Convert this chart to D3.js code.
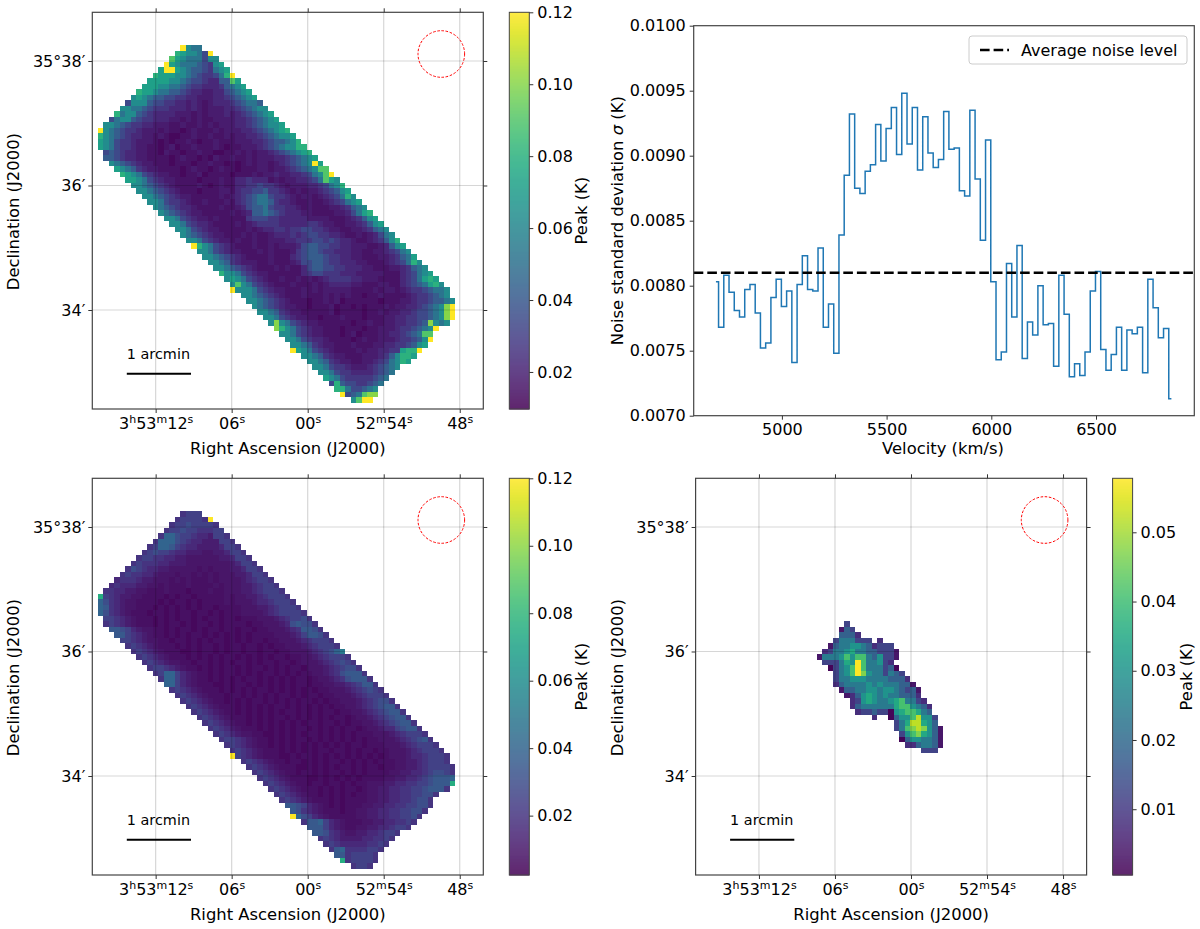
<!DOCTYPE html>
<html>
<head>
<meta charset="utf-8">
<script src="https://cdn.jsdelivr.net/npm/d3@7"></script>
<style>
  body { margin: 0; background: #fff; }
  text { font-family: "DejaVu Sans", sans-serif; fill: #000; }
</style>
</head>
<body>
<svg id="chart" width="1200" height="929"></svg>
<script>
// peak map cells: one character per cell, first row of the grid is 6
const firstRow = 6;
const rowStarts = [16,15,14,13,12,11,10,9,8,7,6,5,4,3,2,1,1,1,1,2,2,3,4,5,6,7,8,9,10,11,12,13,14,15,16,17,18,19,20,21,22,23,24,25,25,27,28,29,30,31,32,33,34,35,36,36,38,39,40,41,42,43,44,45,47];

const levelKeys = "0123456789abcy";
const rawPeakLevels = [0.012,0.015,0.018,0.022,0.027,0.034,0.042,0.052,0.063,0.072,0.08,0.09,0.1,0.12];
const rawPeakRows = [
  "y877",
  "a98875y",
  "b98777588",
  "y9877765489",
  "9yy9876654789",
  "a999887654457ay",
  "999988765543366b9",
  "9998877654433346789",
  "a99877665433223356789",
  "89876655443322233456789",
  "5888655443323212333456776",
  "887765444333232122233456788",
  "a7886543333222121222323456789",
  "5788654433322121211222233456789",
  "887654433222112112121222334567889",
  "y876544322212110121112122233456789a",
  "a87654332212100112112112122334567889",
  "987544322210101121011211122233456678a",
  "987544322110120112111210112223456788aa",
  "5654332211021101121100112121223456789a",
  "665433221111012110102112112122233456789",
  "8765432211101110112110101212212345678y9",
  "9876432211110121101211011122122345678bb",
  "a987543221101120111101112122322334578by",
  "998754322111101112113343331212233457b98",
  "88765432111121012113344544321222334578a",
  "887654321110111221344556443212122345689",
  "8876543221111121234567754432122123457a8",
  "887544321121112134567764332112112345789",
  "876543321111211235667544332121112234678",
  "87654322111112123667654333221111223579a",
  "887543221211111455544333332222111234689",
  "887543321111212344443333344322112234689",
  "887543221111121233443445544322112234678",
  "876543221112121123334345544332112123578",
  "88754322121121122233444554543321123468a",
  "ya8754321112112122235665544332221123689",
  "887543221112121112456654433322112234578",
  "887654321111211134566654433221112234679",
  "8876432221121112355665443332211123457a8",
  "887654321112121135665544333221112234678",
  "a88754322111111345544433322222111345789",
  "8987543211211212123444433222111134579a9",
  "8b87543211121112123333221112211345679a8",
  "y888754322111212122222111121221234456778",
  "88765432111211121212110112111123445678",
  "88765432111011212011111101112234456678",
  "87654322110111201101011121223345678cy",
  "8876432211111201111011212233455678cy",
  "887543221101112111011122334455678cy",
  "8c875432211111101121122334456c878",
  "ca875432211101110112223445678y",
  "88754322111012011122334567bb",
  "88754332111101211222344568y",
  "8876432211121112233445689",
  "y98754321111212233449aay",
  "887643221112223468aa9",
  "88764322112234578a9",
  "8875443222345678",
  "88754433334567",
  "987544444567",
  "5a65544567",
  "aa755678",
  "y567bcc",
  "8byy"
];

const cleanedPeakLevels = [0.005,0.007,0.009,0.012,0.016,0.02,0.025,0.03,0.035,0.04,0.05,0.075,0.1,0.12];
const cleanedPeakRows = [
  "5666",
  "566665y",
  "566766665",
  "56676655566",
  "5997665443665",
  "599976544333665",
  "56998654433334665",
  "5676654433322334665",
  "566554433222222334665",
  "56555443332222222234665",
  "5765443322222121222334665",
  "565544322212212121222334665",
  "45554332221212111212222345665",
  "4544433221211121111212223345665",
  "554433221112111011121122233456665",
  "b6543322111101011011111212233456665",
  "975432211110101101011112122234456665",
  "9854322111010101010110111122233456665",
  "97543211101101011011010111222234566665",
  "66543211101010110101101101112223456675",
  "565432111010110101101011110112223478775",
  "887643221101011010110110110112223458875",
  "886543211010101101010101011112223468875",
  "665432211011010101101010110112223456665",
  "565432111010101101011011010112223456665",
  "56543211100101101011011011011222345679a",
  "565432111010101011010101011011223456665",
  "565432211011010101101011011012223456765",
  "566543211010101101011010101102223456775",
  "569964321101011010101101010112234578885",
  "599643211010101011010101011012234578885",
  "996432111001011010101010110112233456885",
  "565432111010101011010101010112223456765",
  "565432111011010101011010110112223456665",
  "565432110101011010101011010112223456775",
  "565432111010101011010101010112234567885",
  "565432110101010101101010110112234567885",
  "565432111010101101010101011012234567885",
  "565432110101010101011011010112234567885",
  "565432111010101011010101011012234467885",
  "565432211001010101101010101112223456665",
  "566543211010101101010101010112223456785",
  "565432110101010101010101101112223456665",
  "565432111010101011011010110112223456665",
  "y654321110010110101010101010122234456665",
  "56543211011010101101010101112233456665",
  "56543211100101010110101101122334566665",
  "5654321101101011010101111223344567765",
  "565432111001010101011112233445678889",
  "5654321101101101011222334455667888b",
  "565432111010101101223344556678885",
  "565432110101010112233445566775",
  "5654321110101111223344556775",
  "887643210101112233445566775",
  "8754321110112233445566775",
  "y97643211111223344556675",
  "588964321112233445565",
  "8886432112233445665",
  "8875432233445665",
  "56543333445565",
  "565444445565",
  "5895555665",
  "88566665",
  "b566665",
  "5665"
];

// source-only map around the galaxy
const sourceLevels = [0.001,0.004,0.008,0.012,0.018,0.024,0.03,0.035,0.041,0.047,0.052,0.056,0.057,0.058];
const sourceFirstRow = 26;
const sourceStarts = [27,26,26,25,24,23,22,23,24,25,25,25,26,27,28,28,29,32,36,36,37,37,38,41];
const sourceRows = [
  "3",
  "143",
  "4442",
  "3555333.2",
  "145566542333",
  "23556755443331",
  "155568688546331",
  "333576y855632",
  "03568y8555340",
  "3568y96553543",
  "35566655554442",
  "245555656555441",
  "144556656654341",
  "12467656554442",
  "23676556785532",
  "245555557886542",
  "23343306788754",
  "2..04668a663",
  "357aa764",
  "3589a9641",
  "36897641",
  "04665541",
  "2245541",
  "333"
];

// noise spectrum
const velocities = [4685,4710,4735,4760,4785,4810,4835,4860,4885,4910,4935,4960,4985,5010,5035,5060,5085,5110,5135,5160,5185,5210,5235,5260,5285,5310,5335,5360,5385,5410,5435,5460,5485,5510,5535,5560,5585,5610,5635,5660,5685,5710,5735,5760,5785,5810,5835,5860,5885,5910,5935,5960,5985,6010,6035,6060,6085,6110,6135,6160,6185,6210,6235,6260,6285,6310,6335,6360,6385,6410,6435,6460,6485,6510,6535,6560,6585,6610,6635,6660,6685,6710,6735,6760,6785,6810,6835,6860];
const noiseSigma = [0.00803,0.00768,0.00808,0.00795,0.00781,0.00776,0.00797,0.00801,0.00779,0.00752,0.00756,0.00791,0.00805,0.00784,0.00796,0.00741,0.00801,0.00823,0.00797,0.00796,0.00829,0.00768,0.00786,0.00748,0.00839,0.00885,0.00932,0.00875,0.00871,0.00888,0.00893,0.00924,0.00896,0.00921,0.00937,0.00901,0.00948,0.00909,0.00937,0.00889,0.0093,0.00902,0.00891,0.00897,0.00934,0.00905,0.00906,0.00873,0.00869,0.00935,0.00882,0.00835,0.00912,0.00803,0.00743,0.00749,0.00817,0.00776,0.00831,0.00744,0.00772,0.00762,0.008,0.0077,0.00771,0.00738,0.00808,0.00778,0.0073,0.0074,0.00731,0.00749,0.00796,0.00811,0.00751,0.00735,0.00747,0.00768,0.00735,0.00766,0.00763,0.00768,0.00733,0.00805,0.00783,0.0076,0.00767,0.00713];
const averageNoise = 0.0081;

const velocityTicks = [5000,5500,6000,6500];
const sigmaTicks = [0.007,0.0075,0.008,0.0085,0.009,0.0095,0.01];

const raOffsets = [12,6,0,-6,-12];
const raTickLabels = ["3h53m12s","06s","00s","52m54s","48s"];
const decMinutes = [38,36,34];
const decTickLabels = ["35°38′","36′","34′"];
const peakTicksRaw = [0.02,0.04,0.06,0.08,0.1,0.12];
const peakTicksSource = [0.01,0.02,0.03,0.04,0.05];

const svg = d3.select("#chart");
const tickFont = 16;
const labelFont = 16.4;

function styleAxis(g) {
  g.selectAll(".domain").remove();
  g.selectAll("line").attr("stroke", "#333").attr("stroke-width", 1);
  g.selectAll("text").style("font-size", tickFont + "px");
}

function addSuperscripts(g) {
  g.selectAll("text").each(function (d, i) {
    const label = raTickLabels[i];
    const el = d3.select(this).text(null);
    const parts = label.match(/\d+|[a-z]/g);
    let raised = false;
    parts.forEach(p => {
      const isLetter = /[a-z]/.test(p);
      const span = el.append("tspan").text(p);
      if (isLetter) {
        span.attr("dy", -6).style("font-size", "11px");
        raised = true;
      } else {
        if (raised) span.attr("dy", 6);
        raised = false;
      }
    });
  });
}

function drawSkyPanel(opt) {
  const w = 391, h = opt.height;
  const g = svg.append("g").attr("transform", `translate(${opt.left},${opt.top})`);

  const colScale = d3.scaleLinear().domain([0, 71.1]).range([0, w]);
  const rowScale = d3.scaleLinear().domain([0, 72.1]).range([0, h]);
  const raScale = d3.scaleLinear().domain([17, -13.86]).range([0, w]);
  const decScale = d3.scaleLinear().domain([38.782, 32.41]).range([0, h]);
  const color = d3.scaleSequential(d3.interpolateViridis).domain([opt.vmin, opt.vmax]);

  const cells = [];
  opt.rows.forEach((row, i) => {
    row.split("").forEach((key, j) => {
      if (key === ".") return;
      cells.push({ row: opt.firstRow + i, col: opt.starts[i] + j, value: opt.levels[levelKeys.indexOf(key)] });
    });
  });

  g.selectAll("rect.cell").data(cells).join("rect")
    .attr("class", "cell")
    .attr("x", d => colScale(d.col))
    .attr("y", d => rowScale(d.row))
    .attr("width", colScale(1) - colScale(0))
    .attr("height", rowScale(1) - rowScale(0))
    .attr("shape-rendering", "crispEdges")
    .attr("fill", d => color(d.value));

  // grid sits over the image
  g.selectAll("line.ra").data(raOffsets).join("line")
    .attr("x1", d => raScale(d)).attr("x2", d => raScale(d))
    .attr("y1", 0).attr("y2", h)
    .attr("stroke", "rgba(0,0,0,0.16)").attr("stroke-width", 1.2);
  g.selectAll("line.dec").data(decMinutes).join("line")
    .attr("x1", 0).attr("x2", w)
    .attr("y1", d => decScale(d)).attr("y2", d => decScale(d))
    .attr("stroke", "rgba(0,0,0,0.16)").attr("stroke-width", 1.2);

  g.append("rect").attr("width", w).attr("height", h)
    .attr("fill", "none").attr("stroke", "#444").attr("stroke-width", 1.2);

  const bottom = g.append("g").attr("transform", `translate(0,${h})`)
    .call(d3.axisBottom(raScale).tickValues(raOffsets).tickSizeOuter(0).tickSize(4).tickPadding(5)
      .tickFormat((d, i) => raTickLabels[i]));
  styleAxis(bottom);
  addSuperscripts(bottom);
  styleAxis(g.append("g").call(d3.axisTop(raScale).tickValues(raOffsets).tickSize(4).tickFormat("")));

  const left = g.append("g")
    .call(d3.axisLeft(decScale).tickValues(decMinutes).tickSize(4).tickPadding(3)
      .tickFormat((d, i) => decTickLabels[i]));
  styleAxis(left);
  styleAxis(g.append("g").attr("transform", `translate(${w},0)`)
    .call(d3.axisRight(decScale).tickValues(decMinutes).tickSize(4).tickFormat("")));

  g.append("text").attr("x", w / 2).attr("y", h + 45).attr("text-anchor", "middle")
    .style("font-size", labelFont + "px").text("Right Ascension (J2000)");
  g.append("text").attr("transform", `translate(-73,${h / 2 + 1}) rotate(-90)`).attr("text-anchor", "middle")
    .style("font-size", labelFont + "px").text("Declination (J2000)");

  // scale bar and beam
  g.append("line").attr("x1", 34.5).attr("x2", 98.7).attr("y1", 361.5).attr("y2", 361.5)
    .attr("stroke", "#000").attr("stroke-width", 2);
  g.append("text").attr("x", 34.5).attr("y", 346.5).style("font-size", "14.4px").text("1 arcmin");
  g.append("circle").attr("cx", 349).attr("cy", 41.7).attr("r", 23.3)
    .attr("fill", "none").attr("stroke", "red").attr("stroke-width", 1).attr("stroke-dasharray", "2.6,1.6");

  // colour bar
  const barH = d3.scaleLinear().domain([opt.vmin, opt.vmax]).range([h, 0]);
  const bar = svg.append("g").attr("transform", `translate(${opt.left + opt.barGap},${opt.top})`);
  bar.selectAll("rect").data(d3.range(0, h)).join("rect")
    .attr("x", 0).attr("y", d => d).attr("width", 20).attr("height", 1.2)
    .attr("fill", d => color(barH.invert(d + 0.5)));
  bar.append("rect").attr("width", 20).attr("height", h)
    .attr("fill", "none").attr("stroke", "#444").attr("stroke-width", 1);
  const barAxis = bar.append("g").attr("transform", "translate(20,0)")
    .call(d3.axisRight(barH).tickValues(opt.barTicks).tickSize(4).tickPadding(4).tickFormat(d3.format(".2f")));
  styleAxis(barAxis);
  bar.append("text").attr("transform", `translate(${opt.barLabelX},${h / 2}) rotate(-90)`).attr("text-anchor", "middle")
    .style("font-size", labelFont + "px").text("Peak (K)");
}

drawSkyPanel({ left: 92.3, top: 12.3, height: 396.7, rows: rawPeakRows, starts: rowStarts, firstRow, levels: rawPeakLevels,
  vmin: 0.0097, vmax: 0.12, barTicks: peakTicksRaw, barGap: 417, barLabelX: 78 });
drawSkyPanel({ left: 92.3, top: 478.3, height: 396.7, rows: cleanedPeakRows, starts: rowStarts, firstRow, levels: cleanedPeakLevels,
  vmin: 0.0024, vmax: 0.12, barTicks: peakTicksRaw, barGap: 417, barLabelX: 78 });
drawSkyPanel({ left: 695.6, top: 478.3, height: 396.7, rows: sourceRows, starts: sourceStarts, firstRow: sourceFirstRow, levels: sourceLevels,
  vmin: 0.0005, vmax: 0.0578, barTicks: peakTicksSource, barGap: 417, barLabelX: 79 });

// noise panel
const spec = { left: 693.7, right: 1194.3, top: 25.7, bottom: 415.7 };
const vScale = d3.scaleLinear().domain([4578.8, 6969.4]).range([spec.left, spec.right]);
const sScale = d3.scaleLinear().domain([0.007, 0.01]).range([spec.bottom, spec.top]);
const specG = svg.append("g");

specG.append("path")
  .attr("d", d3.line().x(d => vScale(d[0])).y(d => sScale(d[1])).curve(d3.curveStep)(d3.zip(velocities, noiseSigma)))
  .attr("fill", "none").attr("stroke", "#1f77b4").attr("stroke-width", 1.5);
specG.append("line").attr("x1", spec.left).attr("x2", spec.right)
  .attr("y1", sScale(averageNoise)).attr("y2", sScale(averageNoise))
  .attr("stroke", "#000").attr("stroke-width", 2.6).attr("stroke-dasharray", "9.6,4");
specG.append("rect").attr("x", spec.left).attr("y", spec.top)
  .attr("width", spec.right - spec.left).attr("height", spec.bottom - spec.top)
  .attr("fill", "none").attr("stroke", "#444").attr("stroke-width", 1.2);

const vAxis = specG.append("g").attr("transform", `translate(0,${spec.bottom})`)
  .call(d3.axisBottom(vScale).tickValues(velocityTicks).tickSize(4).tickPadding(4).tickFormat(d3.format("d")));
styleAxis(vAxis);
const sAxis = specG.append("g").attr("transform", `translate(${spec.left},0)`)
  .call(d3.axisLeft(sScale).tickValues(sigmaTicks).tickSize(4).tickPadding(4).tickFormat(d3.format(".4f")));
styleAxis(sAxis);

specG.append("text").attr("x", (spec.left + spec.right) / 2 - 1).attr("y", 454).attr("text-anchor", "middle")
  .style("font-size", labelFont + "px").text("Velocity (km/s)");
const sLabel = specG.append("text").attr("transform", `translate(623,${(spec.top + spec.bottom) / 2}) rotate(-90)`)
  .attr("text-anchor", "middle").style("font-size", labelFont + "px");
sLabel.append("tspan").text("Noise standard deviation ");
sLabel.append("tspan").style("font-style", "italic").text("σ");
sLabel.append("tspan").text(" (K)");

specG.append("rect").attr("x", 969).attr("y", 36).attr("width", 218).attr("height", 28).attr("rx", 3)
  .attr("fill", "#fff").attr("stroke", "#ccc").attr("stroke-width", 1);
specG.append("line").attr("x1", 980).attr("x2", 1009).attr("y1", 50).attr("y2", 50)
  .attr("stroke", "#000").attr("stroke-width", 2.6).attr("stroke-dasharray", "9.6,4");
specG.append("text").attr("x", 1021).attr("y", 55.5).style("font-size", tickFont + "px").text("Average noise level");
</script>
</body>
</html>
